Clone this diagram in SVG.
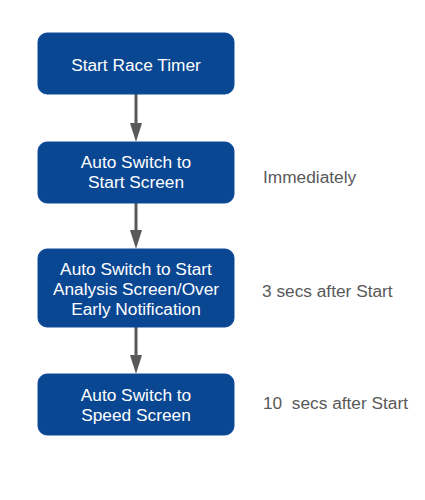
<svg xmlns="http://www.w3.org/2000/svg" width="425" height="500" viewBox="0 0 425 500">
<defs>
<style>
.box{fill:#0a4793;stroke:#0d4c98;stroke-width:1}
.t{font-family:"Liberation Sans",Arial,sans-serif;font-size:17.3px;fill:#ffffff;text-anchor:middle}
.lbl{font-family:"Liberation Sans",Arial,sans-serif;font-size:17.3px;fill:#595959;white-space:pre}
.edge{stroke:#595959;stroke-width:3;fill:none}
.head{fill:#595959}
</style>
</defs>
<rect width="425" height="500" fill="#ffffff"/>
<g id="connectors">
<line class="edge" x1="136" y1="94" x2="136" y2="125"/>
<path class="head" d="M130,123 L142,123 L136,142 Z"/>
<line class="edge" x1="136" y1="203" x2="136" y2="232"/>
<path class="head" d="M130,230 L142,230 L136,249 Z"/>
<line class="edge" x1="136" y1="327" x2="136" y2="357"/>
<path class="head" d="M130,355 L142,355 L136,374 Z"/>
</g>
<g id="n1">
<rect class="box" x="38" y="33" width="196" height="61" rx="9"/>
<text class="t" x="136" y="71">Start Race Timer</text>
</g>
<g id="n2">
<rect class="box" x="38" y="142" width="196" height="61" rx="9"/>
<text class="t" x="136" y="168">Auto Switch to</text>
<text class="t" x="136" y="188">Start Screen</text>
</g>
<g id="n3">
<rect class="box" x="38" y="249" width="196" height="78" rx="9"/>
<text class="t" x="136" y="275">Auto Switch to Start</text>
<text class="t" x="136" y="295">Analysis Screen/Over</text>
<text class="t" x="136" y="315">Early Notification</text>
</g>
<g id="n4">
<rect class="box" x="38" y="374" width="196" height="61" rx="9"/>
<text class="t" x="136" y="401">Auto Switch to</text>
<text class="t" x="136" y="421">Speed Screen</text>
</g>
<g id="labels">
<text class="lbl" x="263" y="183">Immediately</text>
<text class="lbl" x="262" y="297">3 secs after Start</text>
<text class="lbl" x="263" y="409" xml:space="preserve">10  secs after Start</text>
</g>
</svg>
